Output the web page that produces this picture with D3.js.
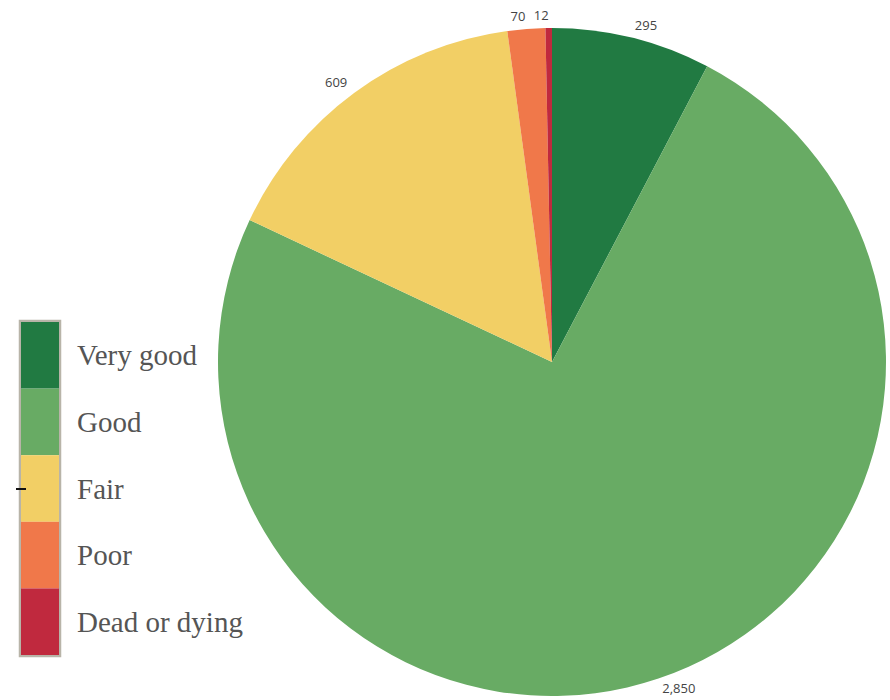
<!DOCTYPE html>
<html><head><meta charset="utf-8">
<script src="https://cdn.jsdelivr.net/npm/d3@7"></script>
<style>body{margin:0;background:#fff}svg{display:block}</style>
</head><body>
<svg id="c" width="890" height="700"></svg>
<script>
const categories = ["Very good", "Good", "Fair", "Poor", "Dead or dying"];
const values = [295, 2850, 609, 70, 12];
const colors = ["#217a42", "#68ab64", "#f2cf65", "#f0784a", "#c0293e"];

const svg = d3.select("#c");
const cx = 552, cy = 362, r = 334;
const data = categories.map((c, i) => ({cat: c, value: values[i], color: colors[i]}));
const pie = d3.pie().sort(null).value(d => d.value);
const arcs = pie(data);
const arc = d3.arc().innerRadius(0).outerRadius(r);
const labelArc = d3.arc().innerRadius(346).outerRadius(346);
const g = svg.append("g").attr("transform", `translate(${cx},${cy})`);
g.selectAll("path").data(arcs).join("path").attr("d", arc).attr("fill", d => d.data.color);
const fmt = d3.format(",");
g.selectAll("text").data(arcs).join("text")
  .attr("transform", d => `translate(${labelArc.centroid(d)})`)
  .attr("text-anchor", d => ((d.startAngle + d.endAngle) / 2 < Math.PI ? "start" : "end"))
  .attr("dominant-baseline", "middle")
  .attr("font-family", "Open Sans, sans-serif").attr("font-size", 13).attr("fill", "#444")
  .text(d => fmt(d.data.value));

// legend
const legY = d3.scaleBand().domain(categories).range([322, 655]);
const lg = svg.append("g");
lg.append("rect").attr("x", 20).attr("y", 321).attr("width", 40).attr("height", 335)
  .attr("fill", "none").attr("stroke", "#b8b4a8").attr("stroke-width", 2.5);
lg.selectAll("rect.s").data(data).join("rect").attr("class", "s")
  .attr("x", 21).attr("y", d => legY(d.cat)).attr("width", 38).attr("height", legY.bandwidth())
  .attr("fill", d => d.color);
lg.selectAll("text").data(data).join("text")
  .attr("x", 77).attr("y", d => legY(d.cat) + legY.bandwidth() / 2 + 10)
  .attr("font-family", "Liberation Serif, DejaVu Serif, serif").attr("font-size", 29).attr("fill", "#555")
  .text(d => d.cat);
lg.append("line").attr("x1", 16).attr("x2", 26).attr("y1", 489).attr("y2", 489)
  .attr("stroke", "#111").attr("stroke-width", 2);
</script>
</body></html>
